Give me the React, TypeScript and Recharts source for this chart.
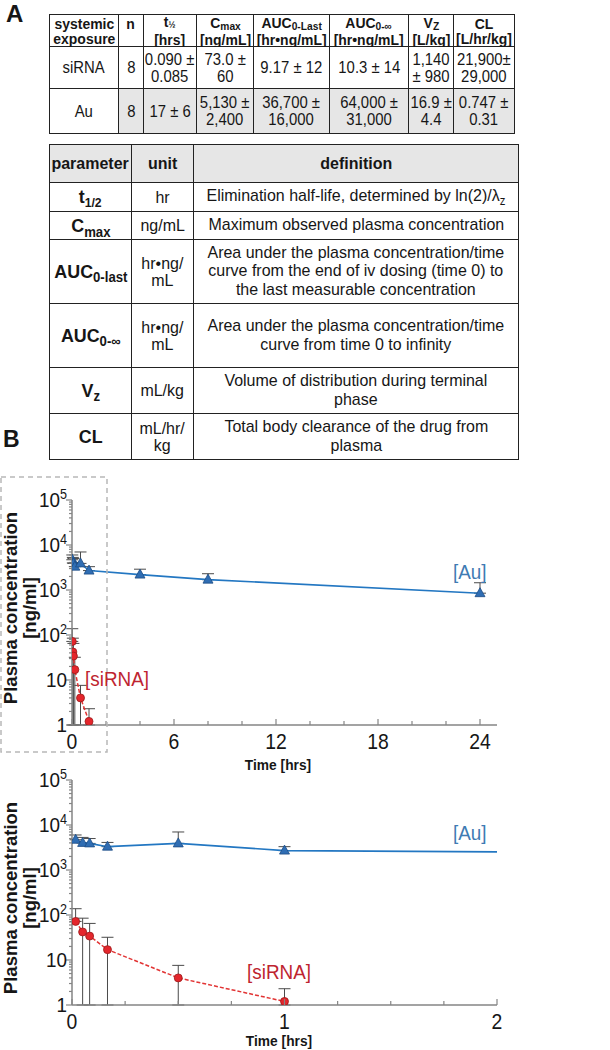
import React from 'react';
import { LineChart, Line, XAxis, YAxis, ErrorBar } from 'recharts';

const FONT = "'Liberation Sans', Arial, Helvetica, sans-serif";
const AXIS = '#858585';
const INK = '#161616';
const RULE = '1.5px solid #222';
const SHADE = '#e6e6e6';
const AU_LINE = '#2377c2';
const AU_FILL = '#2f6db3';
const AU_TEXT = '#3f7bb3';
const SI_LINE = '#e23434';
const SI_FILL = '#e4262c';
const SI_TEXT = '#be2430';
const BAR = '#4a4a4a';

// --- table A (top): systemic exposure ---
const siRNARow = ['siRNA', '8', '0.090 ±\n0.085', '73.0 ±\n60', '9.17 ± 12', '10.3 ± 14', '1,140\n± 980', '21,900±\n29,000'];
const auRow = ['Au', '8', '17 ± 6', '5,130 ±\n2,400', '36,700 ±\n16,000', '64,000 ±\n31,000', '16.9 ±\n4.4', '0.747 ±\n0.31'];

// --- table A (bottom): parameter definitions ---
const paramUnits = ['hr', 'ng/mL', 'hr•ng/\nmL', 'hr•ng/\nmL', 'mL/kg', 'mL/hr/\nkg'];
const paramDefs = [
  'Elimination half-life, determined by ln(2)/λ',
  'Maximum observed plasma concentration',
  'Area under the plasma concentration/time\ncurve from the end of iv dosing (time 0) to\nthe last measurable concentration',
  'Area under the plasma concentration/time\ncurve from time 0 to infinity',
  'Volume of distribution during terminal\nphase',
  'Total body clearance of the drug from\nplasma',
];

// --- panel B: plasma concentration [ng/ml] vs time [hrs] ---
const auTimes = [0.017, 0.05, 0.083, 0.167, 0.5, 1, 4, 8, 24];
const auMean = [4700, 4000, 3900, 3300, 3900, 2700, 2200, 1700, 850];
const auHigh = [6000, 5300, 5000, 4100, 7000, 3300, 2900, 2300, 1450];

const siTimes = [0.017, 0.05, 0.083, 0.167, 0.5, 1];
const siMean = [72, 42, 34, 17, 4, 1.2];
const siHigh = [138, 85, 65, 32, 7.6, 2.3];
const siLow = [72, 1, 1, 1, 1, 1];

const yMajor = [1, 10, 100, 1000, 10000, 100000];
const topXTicks = [0, 2, 4, 6, 8, 10, 12, 14, 16, 18, 20, 22, 24];
const topXLabels = [0, 6, 12, 18, 24];
const botXTicks = [0, 0.25, 0.5, 0.75, 1, 1.25, 1.5, 1.75, 2];
const botXLabels = [0, 1, 2];

const yTicks: number[] = [];
yMajor.forEach((d, i) => {
  yTicks.push(d);
  if (i < yMajor.length - 1) [2, 3, 4, 5, 6, 7, 8, 9].forEach((m) => yTicks.push(d * m));
});

const auData = auTimes.map((t, i) => ({ t, v: auMean[i], err: [0, auHigh[i] - auMean[i]] }));
const siData = siTimes.map((t, i) => ({ t, v: siMean[i], err: [siMean[i] - siLow[i], siHigh[i] - siMean[i]] }));

const Sub = ({ children, size, dy }: any) => (
  <span style={{ fontSize: size, position: 'relative', top: dy }}>{children}</span>
);

const exposureHeader = [
  <>systemic{'\n'}exposure</>,
  <>n{'\n'} </>,
  <>t<Sub size={9} dy={1}>½</Sub>{'\n'}[hrs]</>,
  <>C<Sub size={11} dy={2}>max</Sub>{'\n'}[ng/mL]</>,
  <>AUC<Sub size={11} dy={2}>0-Last</Sub>{'\n'}[hr•ng/mL]</>,
  <>AUC<Sub size={11} dy={2}>0-∞</Sub>{'\n'}[hr•ng/mL]</>,
  <>V<Sub size={11} dy={2}>Z</Sub>{'\n'}[L/kg]</>,
  <>CL{'\n'}[L/hr/kg]</>,
];

const paramNames = [
  <>t<Sub size={13} dy={4}>1/2</Sub></>,
  <>C<Sub size={14} dy={5}>max</Sub></>,
  <>AUC<Sub size={14} dy={4}>0-last</Sub></>,
  <>AUC<Sub size={14} dy={4}>0-∞</Sub></>,
  <>V<Sub size={14} dy={4}>z</Sub></>,
  <>CL</>,
];

function Grid({ left, top, cols, rows, cells, fill, cellStyle, squeeze }: any) {
  const xs = cols.reduce((a: number[], w: number) => [...a, a[a.length - 1] + w], [0]);
  const ys = rows.reduce((a: number[], h: number) => [...a, a[a.length - 1] + h], [0]);
  return (
    <div style={{ position: 'absolute', left, top }}>
      {cells.map((row: any[], r: number) =>
        row.map((c: any, k: number) => (
          <div
            key={`${r}-${k}`}
            style={{
              position: 'absolute',
              left: xs[k],
              top: ys[r],
              width: cols[k],
              height: rows[r],
              boxSizing: 'border-box',
              borderRight: RULE,
              borderBottom: RULE,
              borderLeft: k === 0 ? RULE : undefined,
              borderTop: r === 0 ? RULE : undefined,
              background: fill(r, k),
              display: 'flex',
              alignItems: 'center',
              justifyContent: 'center',
              textAlign: 'center',
              whiteSpace: 'pre',
              color: INK,
              ...cellStyle(r, k),
            }}
          >
            <div style={{ transform: `scaleX(${squeeze})`, flexShrink: 0 }}>{c}</div>
          </div>
        )),
      )}
    </div>
  );
}

// svg text squeezed horizontally like the source figure
const T = ({ x, y, sx = 0.9, children, ...rest }: any) => (
  <text transform={`translate(${x} ${y}) scale(${sx} 1)`} fontFamily={FONT} {...rest}>
    {children}
  </text>
);

const XTick = ({ x, y, payload, labels }: any) => {
  const v = payload.value;
  const major = labels.includes(v);
  return (
    <g>
      <line x1={x} x2={x} y1={y - (major ? 6 : 4)} y2={y} stroke={AXIS} strokeWidth={1.2} />
      {major && (
        <T x={x} y={y + 24} textAnchor="middle" fontSize={21.5} fill={INK}>
          {v}
        </T>
      )}
    </g>
  );
};

const YTick = ({ x, y, payload }: any) => {
  const v = payload.value;
  const e = Math.log10(v);
  const major = Math.abs(e - Math.round(e)) < 1e-9;
  const exp = Math.round(e);
  return (
    <g>
      <line x1={x - (major ? 6 : 3)} x2={x} y1={y} y2={y} stroke={AXIS} strokeWidth={1.2} />
      {major && (
        <T x={x - 5} y={y + 6.5} textAnchor="end" fontSize={21} fill={INK}>
          {exp >= 2 ? (
            <>
              10<tspan fontSize={14} dy={-8}>{exp}</tspan>
            </>
          ) : (
            v
          )}
        </T>
      )}
    </g>
  );
};

const Tri = (p: any) => {
  const { cx, cy, index } = p;
  if (cx == null || cy == null) return <g key={index} />;
  return (
    <path
      key={index}
      d={`M${cx},${cy - 5.5} L${cx + 5},${cy + 3.5} L${cx - 5},${cy + 3.5} Z`}
      fill={AU_FILL}
      stroke="#1d4c85"
      strokeWidth={0.8}
    />
  );
};

const Dot = (p: any) => {
  const { cx, cy, index } = p;
  if (cx == null || cy == null) return <g key={index} />;
  return <circle key={index} cx={cx} cy={cy} r={4} fill={SI_FILL} stroke="#9b1b1b" strokeWidth={0.8} />;
};

function PkChart({ top, xMax, xTicks, xLabels }: any) {
  return (
    <div style={{ position: 'absolute', left: 0, top }}>
      <LineChart width={610} height={280} margin={{ top: 20, right: 113, bottom: 0, left: 0 }}>
        <XAxis
          type="number"
          dataKey="t"
          domain={[0, xMax]}
          ticks={xTicks}
          interval={0}
          allowDataOverflow
          height={35}
          tickSize={0}
          tickMargin={0}
          tickLine={false}
          axisLine={{ stroke: AXIS, strokeWidth: 1.5 }}
          tick={(p: any) => <XTick {...p} labels={xLabels} />}
        />
        <YAxis
          type="number"
          scale="log"
          domain={[1, 100000]}
          ticks={yTicks}
          interval={0}
          allowDataOverflow
          width={72}
          tickSize={0}
          tickMargin={0}
          tickLine={false}
          axisLine={{ stroke: AXIS, strokeWidth: 1.5 }}
          tick={(p: any) => <YTick {...p} />}
        />
        <Line
          data={siData}
          dataKey="v"
          type="linear"
          stroke={SI_LINE}
          strokeWidth={1.5}
          strokeDasharray="4 2"
          dot={Dot}
          isAnimationActive={false}
        >
          <ErrorBar dataKey="err" direction="y" width={6} stroke={BAR} strokeWidth={1} isAnimationActive={false} />
        </Line>
        <Line
          data={auData}
          dataKey="v"
          type="linear"
          stroke={AU_LINE}
          strokeWidth={1.6}
          dot={Tri}
          isAnimationActive={false}
        >
          <ErrorBar dataKey="err" direction="y" width={6} stroke={BAR} strokeWidth={1} isAnimationActive={false} />
        </Line>
      </LineChart>
    </div>
  );
}

function YLabel({ cy }: { cy: number }) {
  return (
    <g transform="rotate(-90)" fontWeight="bold" fontSize={18.5} fill={INK} textAnchor="middle">
      <text x={-cy} y={16.5}>Plasma concentration</text>
      <text x={-cy} y={36}>[ng/ml]</text>
    </g>
  );
}

export default function App() {
  const t1Rows = [exposureHeader, siRNARow, auRow];
  const t2Rows = [
    ['parameter', 'unit', 'definition'],
    ...paramNames.map((n, i) => [
      n,
      paramUnits[i],
      i === 0 ? (
        <>
          {paramDefs[0]}
          <Sub size={12} dy={4}>z</Sub>
        </>
      ) : (
        paramDefs[i]
      ),
    ]),
  ];
  return (
    <div style={{ position: 'absolute', left: 0, top: 0, width: 610, height: 1050, background: '#fff', fontFamily: FONT }}>
      <Grid
        left={49}
        top={14}
        cols={[70, 25, 53, 57, 76, 79, 45, 61]}
        rows={[33, 42, 45]}
        cells={t1Rows}
        squeeze={0.93}
        fill={(r: number, k: number) => (r === 2 && k > 0 ? SHADE : '#fff')}
        cellStyle={(r: number) =>
          r === 0
            ? { fontSize: 15, fontWeight: 'bold', lineHeight: '15px' }
            : { fontSize: 16, lineHeight: '17px' }
        }
      />
      <Grid
        left={49}
        top={144}
        cols={[83, 62, 325]}
        rows={[39, 29, 28, 64, 64, 46, 46]}
        cells={t2Rows}
        squeeze={0.94}
        fill={(r: number) => (r === 0 ? SHADE : '#fff')}
        cellStyle={(r: number, k: number) =>
          r === 0
            ? { fontSize: 17, fontWeight: 'bold' }
            : k === 0
            ? { fontSize: 19, fontWeight: 'bold' }
            : k === 1
            ? { fontSize: 17, lineHeight: '17px' }
            : { fontSize: 17, lineHeight: '18.3px' }
        }
      />
      <PkChart top={480} xMax={25} xTicks={topXTicks} xLabels={topXLabels} />
      <PkChart top={760} xMax={2} xTicks={botXTicks} xLabels={botXLabels} />
      <svg
        width={610}
        height={1050}
        style={{ position: 'absolute', left: 0, top: 0, pointerEvents: 'none' }}
        fontFamily={FONT}
      >
        <T x={6} y={22} sx={1} fontSize={24} fontWeight="bold" fill={INK}>A</T>
        <T x={3} y={447} sx={1} fontSize={23} fontWeight="bold" fill={INK}>B</T>
        <rect x={1} y={477} width={106} height={275} fill="none" stroke="#b8b8b8" strokeWidth={1.5} strokeDasharray="5 4" />
        <YLabel cy={608} />
        <YLabel cy={898} />
        <T x={278} y={770} sx={0.95} fontSize={14.5} fontWeight="bold" textAnchor="middle" fill={INK}>Time [hrs]</T>
        <T x={279} y={1046} sx={0.95} fontSize={14.5} fontWeight="bold" textAnchor="middle" fill={INK}>Time [hrs]</T>
        <T x={453} y={579} sx={0.9} fontSize={21} fill={AU_TEXT}>[Au]</T>
        <T x={85} y={686} sx={0.9} fontSize={21} fill={SI_TEXT}>[siRNA]</T>
        <T x={453} y={840} sx={0.9} fontSize={21} fill={AU_TEXT}>[Au]</T>
        <T x={247} y={979} sx={0.9} fontSize={21} fill={SI_TEXT}>[siRNA]</T>
      </svg>
    </div>
  );
}
